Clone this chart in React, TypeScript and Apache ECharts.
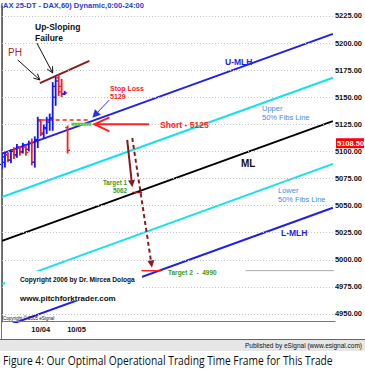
import React, { useEffect, useRef } from 'react';
import * as echarts from 'echarts';

// ---- axes ----
const xMin = 0;
const xMax = 111;
const yMin = 4942.6;
const yMax = 5234.2;
const xLabelValues = [13, 25];
const xLabels = ['10/04', '10/05'];
const yTicks = [4950, 4975, 5000, 5025, 5050, 5075, 5100, 5125, 5150, 5175, 5200, 5225];

// ---- hourly OHLC bars ----
const barIndex = [0, 1, 2, 3, 4, 5, 6, 7, 8, 9, 10, 11, 12, 13, 14, 15, 16, 17, 18, 19, 20, 21, 22];
const opens = [5088, 5090, 5097, 5092, 5101, 5097, 5103, 5100, 5104, 5102, 5108, 5090, 5110, 5128, 5116, 5121, 5127, 5130, 5150, 5168, 5160, 5153, 5122];
const highs = [5097, 5099, 5098, 5101, 5103, 5106, 5104, 5107, 5105, 5109, 5111, 5113, 5131, 5129, 5124, 5131, 5134, 5163, 5168, 5170, 5166, 5155, 5123];
const lows = [5085, 5086, 5091, 5090, 5094, 5095, 5097, 5099, 5097, 5101, 5088, 5086, 5104, 5115, 5113, 5117, 5120, 5120, 5143, 5152, 5151, 5153, 5099];
const closes = [5095, 5097, 5092, 5100, 5096, 5104, 5099, 5106, 5099, 5108, 5090, 5111, 5129, 5117, 5122, 5129, 5131, 5160, 5165, 5155, 5153, 5154, 5101];

// ---- Andrews pitchfork ----
const forkX = [0, 111];
const upperMLH = [5098, 5208.5];
const upperFib = [5058, 5168];
const medianLine = [5017.5, 5128];
const lowerFib = [4977.5, 5088.5];
const lowerMLH = [4937.5, 5048];

// ---- trade levels ----
const failureX = [12.7, 29.3];
const failureY = [5163, 5183.5];
const stopLevel = 5129;
const stopX = [13.3, 29.3];
const shortLevel = 5125;
const shortX = [23.3, 30];
const target1 = 5062;
const target1X = [43.7, 47];
const target2 = 4990;
const target2X = [46.7, 53.3];
const target2RefX = [81.7, 112.7];
const lastPrice = 5108.5;

// ---- arrows: [x0, y0, x1, y1] in data units ----
const shortArrow = [49.3, 5125, 31, 5125];
const stopArrow = [36, 5147.5, 30.3, 5131];
const target1Arrow = [42, 5110.6, 43.7, 5067];
const target2Arrow = [43.7, 5112.4, 50.3, 4993];
const phArrow = [5.3, 5184.4, 12.7, 5166];
const failureArrow = [11.7, 5200, 17, 5172.4];

const BLUE = '#1f1fee';
const CYAN = '#11e2ee';
const RED = '#ff2020';
const DARKRED = '#8b1a1a';
const GREEN = '#3a9a2a';
const LBLUE = '#3d8fe8';
const FONT = '"Liberation Sans", Arial, sans-serif';

function fork(vals: number[]) {
  return [[forkX[0], vals[0]], [forkX[1], vals[1]]];
}

export default function App() {
  const ref = useRef<HTMLDivElement>(null);
  useEffect(() => {
    if (!ref.current) return;
    const chart = echarts.init(ref.current, null, { renderer: 'svg' });
    const ohlc = barIndex.map((i, k) => [i, opens[k], highs[k], lows[k], closes[k]]);
    const lineSeries = (name: string, data: any, color: string, width: number, extra: any = {}) => ({
      type: 'line', name, data, showSymbol: false, symbol: 'none', silent: true,
      lineStyle: { color, width, ...(extra.lineStyle || {}) }, z: extra.z ?? 3, clip: extra.clip ?? true,
    });
    chart.setOption({
      animation: false,
      backgroundColor: '#ffffff',
      grid: { left: 2, right: 30, top: 6, bottom: 48 },
      xAxis: {
        type: 'value', min: xMin, max: xMax,
        axisLine: { show: false }, splitLine: { show: false },
        axisTick: { show: false, customValues: xLabelValues },
        axisLabel: {
          customValues: xLabelValues, margin: 3,
          formatter: (v: number) => xLabels[xLabelValues.indexOf(v)] ?? '',
          color: '#111', fontSize: 7.5, fontWeight: 'bold', fontFamily: FONT,
        },
      },
      yAxis: {
        type: 'value', position: 'right', min: yMin, max: yMax,
        axisLine: { show: true, lineStyle: { color: '#666', width: 1 } },
        splitLine: { show: false },
        axisTick: { show: false, customValues: yTicks },
        axisLabel: {
          customValues: yTicks, margin: 2, formatter: (v: number) => v.toFixed(2),
          color: '#111', fontSize: 7.5, fontWeight: 'bold', fontFamily: FONT,
        },
      },
      series: [
        {
          type: 'line', data: [], silent: true, z: 1,
          markLine: {
            silent: true, symbol: ['none', 'none'], label: { show: false },
            lineStyle: { color: '#c4c4c4', type: [1, 2], width: 1 },
            data: yTicks.map((v) => ({ yAxis: v })),
          },
        },
        lineSeries('U-MLH', fork(upperMLH), BLUE, 2),
        lineSeries('Upper Fib', fork(upperFib), CYAN, 2),
        lineSeries('ML', fork(medianLine), '#000', 2),
        lineSeries('Lower Fib', fork(lowerFib), CYAN, 2),
        lineSeries('L-MLH', fork(lowerMLH), BLUE, 2),
        lineSeries('failure', [[failureX[0], failureY[0]], [failureX[1], failureY[1]]], DARKRED, 2),
        lineSeries('stop', [[stopX[0], stopLevel], [stopX[1], stopLevel]], RED, 1.5, { lineStyle: { type: [4, 3] } }),
        lineSeries('short', [[shortX[0], shortLevel], [shortX[1], shortLevel]], '#33e033', 3, { z: 4 }),
        lineSeries('t1', [[target1X[0], target1], [target1X[1], target1]], DARKRED, 1.5, { z: 4 }),
        lineSeries('t2', [[target2X[0], target2], [target2X[1], target2]], RED, 1.5, { z: 4 }),
        lineSeries('t2ref', [[target2RefX[0], target2], [target2RefX[1], target2]], '#aaaaaa', 1, { clip: false }),
        {
          type: 'custom', name: 'bars', data: ohlc, z: 5, silent: true,
          encode: { x: 0, y: [1, 2, 3, 4] },
          renderItem: (params: any, api: any) => {
            const x = api.value(0);
            const o = api.value(1), h = api.value(2), l = api.value(3), c = api.value(4);
            const pH = api.coord([x, h]), pL = api.coord([x, l]);
            const pO = api.coord([x, o]), pC = api.coord([x, c]);
            const color = c >= o ? '#1515ff' : '#ff1a1a';
            const st = { stroke: color, lineWidth: 1.8 };
            return {
              type: 'group',
              children: [
                { type: 'line', shape: { x1: pH[0], y1: pH[1] - 1, x2: pL[0], y2: pL[1] + 1 }, style: st },
                { type: 'line', shape: { x1: pO[0] - 2.5, y1: pO[1], x2: pO[0], y2: pO[1] }, style: { stroke: color, lineWidth: 1.3 } },
                { type: 'line', shape: { x1: pC[0], y1: pC[1], x2: pC[0] + 2.5, y2: pC[1] }, style: { stroke: color, lineWidth: 1.3 } },
              ],
            };
          },
        },
      ],
    });

    const P = (x: number, y: number) => chart.convertToPixel({ xAxisIndex: 0, yAxisIndex: 0 }, [x, y]) as number[];
    const g: any[] = [];
    const Z = 60;
    const seg = (a: number[], b: number[], color: string, w: number, dash?: number[], z = Z) =>
      g.push({ type: 'line', silent: true, z, shape: { x1: a[0], y1: a[1], x2: b[0], y2: b[1] }, style: { stroke: color, lineWidth: w, lineDash: dash } });
    const arrow = (arr: number[], color: string, w: number, len: number, hw: number, filled: boolean, dash?: number[]) => {
      const a = P(arr[0], arr[1]);
      const b = P(arr[2], arr[3]);
      const dx = b[0] - a[0], dy = b[1] - a[1];
      const L = Math.hypot(dx, dy);
      const ux = dx / L, uy = dy / L;
      const bx = b[0] - ux * len, by = b[1] - uy * len;
      const nx = -uy * hw, ny = ux * hw;
      seg(a, filled ? [bx, by] : b, color, w, dash);
      const pts = [[bx + nx, by + ny], [b[0], b[1]], [bx - nx, by - ny]];
      if (filled) g.push({ type: 'polygon', silent: true, z: Z, shape: { points: pts }, style: { fill: color } });
      else g.push({ type: 'polyline', silent: true, z: Z, shape: { points: pts }, style: { stroke: color, lineWidth: w, fill: 'none' } });
    };
    const text = (x: number, y: number, t: string, fill: string, size: number, weight = 'bold', align = 'left', z = 70, extra: any = {}) =>
      g.push({ type: 'text', silent: true, z, x, y, style: { text: t, fill, fontSize: size, fontWeight: weight, fontFamily: FONT, align, verticalAlign: 'middle', ...extra } });

    // frame
    g.push({ type: 'rect', silent: true, z: 40, shape: { x: 0, y: 339, width: 365, height: 12 }, style: { fill: '#e6e6e6', stroke: 'none' } });
    seg([0, 339.5], [365, 339.5], '#666', 1, undefined, 41);
    seg([1.5, 9], [1.5, 339], '#777', 1, undefined, 41);
    seg([1.5, 321.5], [335.5, 321.5], '#777', 1, undefined, 41);

    // arrows
    arrow(phArrow, '#111', 1, 6, 3, false);
    arrow(failureArrow, '#111', 1, 6, 3, false);
    arrow(stopArrow, '#2233ee', 1, 8, 4, true);
    arrow(shortArrow, RED, 2, 15, 7, false);
    arrow(target1Arrow, DARKRED, 2, 7, 3.5, true);
    arrow(target2Arrow, DARKRED, 2, 7, 3.5, true, [4, 3]);

    // white note box hiding lines behind copyright texts
    g.push({ type: 'rect', silent: true, z: 55, shape: { x: 5, y: 271, width: 137, height: 30 }, style: { fill: '#fff' } });

    // texts
    text(0.5, 5, '(AX 25-DT - DAX,60) Dynamic,0:00-24:00', '#1f3fd0', 7.5);
    text(8, 52, 'PH', '#a52a2a', 10, 'normal');
    text(35, 27, 'Up-Sloping', '#111', 8.5);
    text(35, 37.5, 'Failure', '#111', 8.5);
    text(110, 88, 'Stop Loss', RED, 7);
    text(110, 96, '5129', RED, 7);
    text(160, 125, 'Short - 5125', RED, 8.5);
    text(225, 62, 'U-MLH', BLUE, 8.5);
    text(262, 108, 'Upper', LBLUE, 7.5, 'normal');
    text(262, 117, '50% Fibs Line', LBLUE, 7.5, 'normal');
    text(241, 163, 'ML', '#111', 10);
    text(278, 190, 'Lower', LBLUE, 7.5, 'normal');
    text(278, 199, '50% Fibs Line', LBLUE, 7.5, 'normal');
    text(281, 233, 'L-MLH', BLUE, 8.5);
    text(127, 182, 'Target 1', GREEN, 6.3, 'bold', 'right');
    text(127, 190, '5062', GREEN, 6.3, 'bold', 'right');
    text(168, 272, 'Target 2  -  4990', GREEN, 6.5);
    text(20, 279, 'Copyright 2006 by Dr. Mircea Dologa', '#111', 6.6);
    text(20, 298, 'www.pitchforktrader.com', '#111', 8);
    text(3, 318, 'Copyright © 2005 eSignal', '#111', 4.5, 'normal');
    text(362, 345, 'Published by eSignal (www.esignal.com)', '#111', 6.5, 'normal', 'right', 70);

    // last price box
    const lp = P(xMax, lastPrice);
    g.push({ type: 'rect', silent: true, z: 65, shape: { x: 336, y: lp[1] - 4, width: 28, height: 10 }, style: { fill: '#ff0000' } });
    text(337, lp[1] + 1, lastPrice.toFixed(2), '#fff', 7.5, 'bold', 'left', 70);

    // caption
    const cap = 'Figure 4: Our Optimal Operational Trading Time Frame for This Trade';
    const capFont = '13px "Open Sans", sans-serif';
    let sx = 1;
    try {
      const ctx = document.createElement('canvas').getContext('2d');
      if (ctx) { ctx.font = capFont; sx = 330 / ctx.measureText(cap).width; }
    } catch (e) { sx = 0.8; }
    g.push({ type: 'text', silent: true, z: 70, x: 3, y: 359, scaleX: sx, style: { text: cap, fill: '#111', fontSize: 13, fontFamily: '"Open Sans", sans-serif', align: 'left', verticalAlign: 'middle' } });

    chart.setOption({ graphic: g });
    return () => chart.dispose();
  }, []);
  return <div ref={ref} style={{ position: 'fixed', left: 0, top: 0, width: 365, height: 370 }} />;
}
